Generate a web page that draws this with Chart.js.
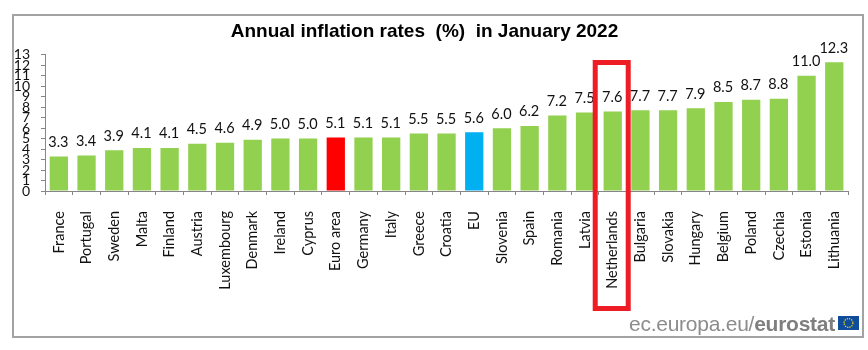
<!DOCTYPE html>
<html>
<head>
<meta charset="utf-8">
<script src="https://cdn.jsdelivr.net/npm/chart.js@4"></script>
<style>
  html, body { margin: 0; padding: 0; background: #fff; }
  #wrap { position: relative; width: 868px; height: 350px; overflow: hidden; }
  #frame { position: absolute; left: 12px; top: 14px; width: 848px; height: 320px; border: 2px solid #a3a3a3; }
  #c { position: absolute; left: 0; top: 0; }
  #source { position: absolute; left: 629px; top: 312px; font: 21px "Liberation Sans", sans-serif; color: #8c8c8c; white-space: nowrap; letter-spacing: -0.25px; }
  #source b { color: #7f7f7f; }
  #flag { position: absolute; left: 838px; top: 316px; width: 21px; height: 14px; }
</style>
</head>
<body>
<div id="wrap">
  <div id="frame"></div>
  <canvas id="c" width="868" height="350"></canvas>
  <div id="source">ec.europa.eu/<b>eurostat</b></div>
  <svg id="flag" viewBox="0 0 21 14">
    <rect width="21" height="14" fill="#0f4c9c"/>
    <circle cx="10.5" cy="7" r="4.4" fill="none" stroke="#f5d90a" stroke-width="1.3" stroke-dasharray="1.2 1.1"/>
  </svg>
</div>
<script>
const countries = ['France', 'Portugal', 'Sweden', 'Malta', 'Finland', 'Austria', 'Luxembourg', 'Denmark', 'Ireland', 'Cyprus',
  'Euro area', 'Germany', 'Italy', 'Greece', 'Croatia', 'EU', 'Slovenia', 'Spain', 'Romania', 'Latvia',
  'Netherlands', 'Bulgaria', 'Slovakia', 'Hungary', 'Belgium', 'Poland', 'Czechia', 'Estonia', 'Lithuania'];
const inflation = [3.3, 3.4, 3.9, 4.1, 4.1, 4.5, 4.6, 4.9, 5.0, 5.0,
  5.1, 5.1, 5.1, 5.5, 5.5, 5.6, 6.0, 6.2, 7.2, 7.5,
  7.6, 7.7, 7.7, 7.9, 8.5, 8.7, 8.8, 11.0, 12.3];
const highlighted = { 'Euro area': '#ff0000', 'EU': '#00b0f0' };
const boxedCountry = 'Netherlands';

const labelFont = '14.5px Lato, sans-serif';
const axisColor = '#868686';

// valeurs au-dessus des barres
const valueLabels = {
  id: 'valueLabels',
  afterDatasetsDraw(chart) {
    const ctx = chart.ctx;
    ctx.save();
    ctx.font = labelFont;
    ctx.fillStyle = '#111';
    ctx.textAlign = 'center';
    ctx.textBaseline = 'bottom';
    chart.getDatasetMeta(0).data.forEach((bar, i) => {
      ctx.fillText(inflation[i].toFixed(1), bar.x - 0.5, bar.y - 7);
    });
    ctx.restore();
  }
};

// cadre rouge autour du pays mis en avant
const boxCountry = {
  id: 'boxCountry',
  afterDraw(chart) {
    const ctx = chart.ctx;
    const x = chart.scales.x.getPixelForValue(countries.indexOf(boxedCountry));
    ctx.save();
    ctx.strokeStyle = '#ee1c25';
    ctx.lineWidth = 5;
    ctx.strokeRect(x - 17.5, 62.5, 33, 246);
    ctx.restore();
  }
};

new Chart(document.getElementById('c'), {
  type: 'bar',
  data: {
    labels: countries,
    datasets: [{
      data: inflation,
      backgroundColor: countries.map(c => highlighted[c] || '#92d050'),
      categoryPercentage: 1,
      barPercentage: 0.66
    }]
  },
  options: {
    responsive: false,
    animation: false,
    layout: { padding: { left: 0, right: 19, top: 0, bottom: 0 } },
    plugins: {
      legend: { display: false },
      tooltip: { enabled: false },
      title: {
        display: true,
        text: 'Annual inflation rates  (%)  in January 2022',
        color: '#000',
        font: { family: '"Liberation Sans", sans-serif', size: 19, weight: 'bold' },
        padding: { top: 20, bottom: 12 }
      }
    },
    scales: {
      x: {
        grid: { drawOnChartArea: false, color: axisColor, tickLength: 4 },
        border: { color: axisColor },
        ticks: { color: '#111', font: { family: 'Lato, sans-serif', size: 14.5 }, minRotation: 90, maxRotation: 90, autoSkip: false, padding: 16, labelOffset: 0 },
        afterFit: s => { s.height = 159; }
      },
      y: {
        min: 0,
        max: 13,
        grid: { drawOnChartArea: false, color: axisColor, tickLength: 4 },
        border: { color: axisColor },
        ticks: { stepSize: 1, autoSkip: false, color: '#111', font: { family: 'Lato, sans-serif', size: 14 }, padding: 11 },
        afterFit: s => { s.width = 45; }
      }
    }
  },
  plugins: [valueLabels, boxCountry]
});
</script>
</body>
</html>
